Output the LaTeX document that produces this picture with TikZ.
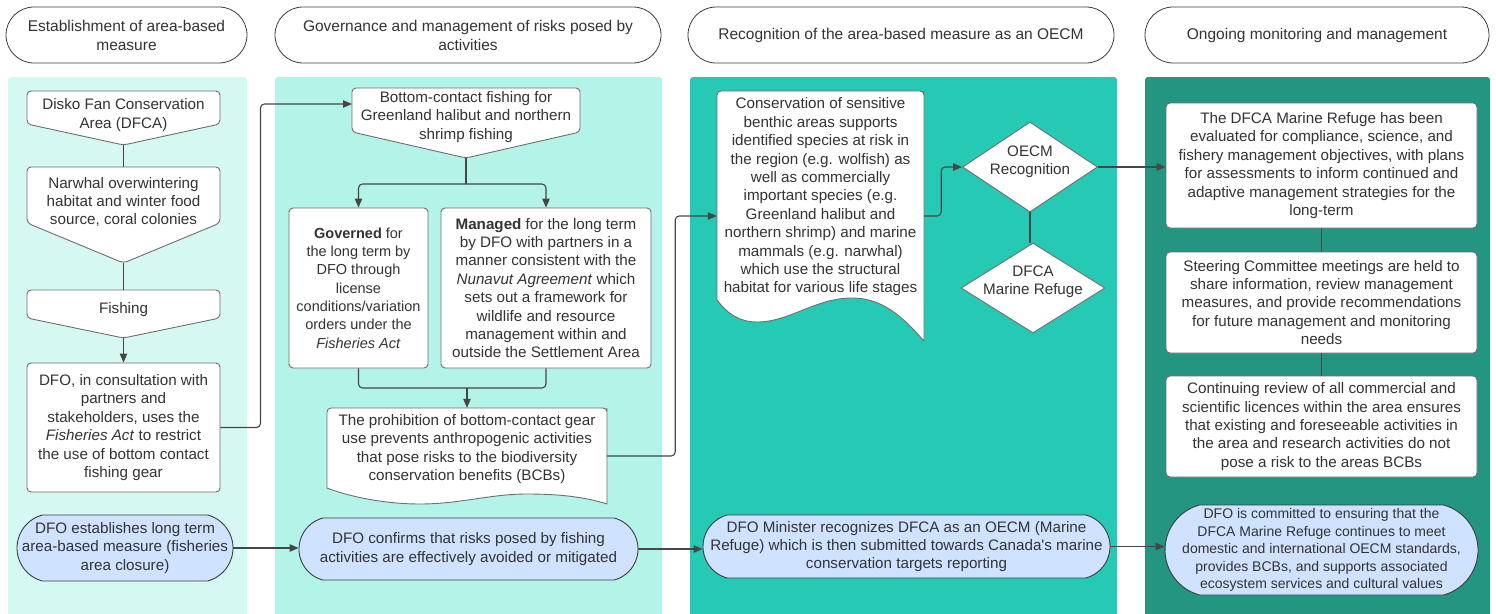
\documentclass[tikz,border=0pt]{standalone}
\usepackage{fontspec}
\setmainfont{Liberation Sans}
\usetikzlibrary{arrows.meta,shapes.misc,shapes.geometric}

\definecolor{ink}{RGB}{51,51,51}
\definecolor{boxline}{RGB}{110,110,110}
\definecolor{darkline}{RGB}{60,60,60}
\definecolor{connline}{RGB}{70,70,70}
\definecolor{laneA}{RGB}{214,248,242}
\definecolor{laneB}{RGB}{180,243,232}
\definecolor{laneC}{RGB}{38,201,179}
\definecolor{laneD}{RGB}{35,149,128}
\definecolor{pillblue}{RGB}{207,226,255}

\begin{document}
\begin{tikzpicture}[x=1pt,y=-1pt,
  every node/.style={font=\fontsize{15.2}{18.4}\selectfont, text=ink, align=center, inner sep=0pt},
  smallfont/.style={font=\fontsize{14.5}{18.3}\selectfont},
  tinyfont/.style={font=\fontsize{14}{17.4}\selectfont},
  sz/.style 2 args={minimum width=#1pt, minimum height=#2pt},
  lane/.style={rounded corners=3pt, draw=none},
  header/.style={rounded rectangle, draw=darkline, line width=0.8pt, fill=white},
  headtext/.style={font=\fontsize{15.5}{19}\selectfont},
  box/.style={rectangle, rounded corners=4pt, draw=boxline, line width=0.9pt, fill=white},
  outline/.style={draw=boxline, line width=0.9pt, fill=white},
  pill/.style={rounded rectangle, rounded rectangle arc length=150, draw=darkline, line width=0.9pt, fill=pillblue},
  frame/.style={rectangle, draw=none},
  decision/.style={diamond, draw=boxline, line width=0.9pt, fill=white},
  conn/.style={draw=connline, line width=1.1pt, rounded corners=4pt},
  arr/.style={conn, -{Triangle[length=9pt,width=7.5pt]}}
]
\useasboundingbox (0,0) rectangle (1496,613);

% swim lanes
\fill[lane, laneA] (8,77) rectangle (247,620);
\fill[lane, laneB] (275,77) rectangle (662,620);
\fill[lane, laneC] (690,77) rectangle (1117,620);
\fill[lane, laneD] (1145,77) rectangle (1490,620);

% lane headers (outline first, caption on top)
\node[header, sz={241}{56}] (h1) at (126.5,35) {};
\node[headtext] (h1t) at (h1) {Establishment of area-based\\measure};
\node[header, sz={386}{56}] (h2) at (468,35) {};
\node[headtext] (h2t) at (h2) {Governance and management of risks posed by\\activities};
\node[header, sz={426}{56}] (h3) at (901,35) {};
\node[headtext] (h3t) at (h3) {Recognition of the area-based measure as an OECM};
\node[header, sz={344}{56}] (h4) at (1317,35) {};
\node[headtext] (h4t) at (h4) {Ongoing monitoring and management};

% ---- lane 1: establishment ----
\draw[outline, rounded corners=4pt] (27,91) -- (220,91) -- (220,124) -- (123.5,145) -- (27,124) -- cycle;
\node[frame, sz={193}{54}] (a1) at (123.5,118) {};
\node (a1t) at (123.5,115) {Disko Fan Conservation\\Area (DFCA)};

\draw[outline, rounded corners=4pt] (27,167) -- (220,167) -- (220,223) -- (123.5,263) -- (27,223) -- cycle;
\node[frame, sz={193}{96}] (a2) at (123.5,215) {};
\node (a2t) at (123.5,202) {Narwhal overwintering\\habitat and winter food\\source, coral colonies};

\draw[outline, rounded corners=4pt] (27,290) -- (220,290) -- (220,318) -- (123.5,338) -- (27,318) -- cycle;
\node[frame, sz={193}{48}] (a3) at (123.5,314) {};
\node (a3t) at (123.5,310) {Fishing};

\node[box, sz={193}{129}] (a4) at (123.5,427.5) {DFO, in consultation with\\partners and\\stakeholders, uses the\\\textit{Fisheries Act} to restrict\\the use of bottom contact\\fishing gear};

\node[pill, sz={216}{66}] (a5) at (125,548) {};
\node (a5t) at (a5) {DFO establishes long term\\area-based measure (fisheries\\area closure)};

% ---- lane 2: governance ----
\draw[outline, rounded corners=4pt] (352,88) -- (580,88) -- (580,132) -- (466,158) -- (352,132) -- cycle;
\node[frame, sz={228}{70}] (b1) at (466,123) {};
\node (b1t) at (466,117) {Bottom-contact fishing for\\Greenland halibut and northern\\shrimp fishing};
\coordinate (b1in) at (352,104);

\node[box, smallfont, sz={139}{160}] (b2) at (358.5,288) {\textbf{Governed} for\\the long term by\\DFO through\\license\\conditions/variation\\orders under the\\\textit{Fisheries Act}};
\node[box, sz={210}{160}] (b3) at (546,288) {\textbf{Managed} for the long term\\by DFO with partners in a\\manner consistent with the\\\textit{Nunavut Agreement} which\\sets out a framework for\\wildlife and resource\\management within and\\outside the Settlement Area};

\draw[outline] (327,488) -- (327,412) [rounded corners=4pt] -- (327,408) -- (607,408) -- (607,412) [sharp corners] -- (607,504)
  .. controls (585,497) and (560,494) .. (527,494)
  .. controls (490,494) and (460,504) .. (420,504)
  .. controls (380,504) and (345,495) .. (327,488) -- cycle;
\node[frame, sz={280}{96}] (b4) at (467,456) {};
\node (b4t) at (467,449) {The prohibition of bottom-contact gear\\use prevents anthropogenic activities\\that pose risks to the biodiversity\\conservation benefits (BCBs)};

\node[pill, sz={339}{62}] (b5) at (468.5,549) {};
\node (b5t) at (b5) {DFO confirms that risks posed by fishing\\activities are effectively avoided or mitigated};

% ---- lane 3: recognition ----
\draw[outline] (717,300) -- (717,95) [rounded corners=4pt] -- (717,91) -- (924,91) -- (924,95) [sharp corners] -- (924,341)
  .. controls (902,316) and (882,298) .. (852,298)
  .. controls (815,298) and (790,322) .. (757,322)
  .. controls (738,322) and (726,312) .. (717,300) -- cycle;
\node[frame, sz={207}{250}] (c1) at (820.5,216) {};
\node (c1t) at (820.5,197) {Conservation of sensitive\\benthic areas supports\\identified species at risk in\\the region (e.g. wolfish) as\\well as commercially\\important species (e.g.\\Greenland halibut and\\northern shrimp) and marine\\mammals (e.g. narwhal)\\which use the structural\\habitat for various life stages};

\node[decision, sz={135}{90}] (c2) at (1030,167) {};
\node (c2t) at (1030,162) {OECM\\Recognition};

\node[decision, sz={144}{90}] (c4) at (1033,288) {};
\node (c4t) at (1033,282) {DFCA\\Marine Refuge};

\node[pill, sz={407}{63}] (c3) at (906.5,546.5) {};
\node (c3t) at (c3) {DFO Minister recognizes DFCA as an OECM (Marine\\Refuge) which is then submitted towards Canada\textquotesingle s marine\\conservation targets reporting};

% ---- lane 4: monitoring ----
\node[box, sz={311}{125}] (d1) at (1321.5,165.5) {The DFCA Marine Refuge has been\\evaluated for compliance, science, and\\fishery management objectives, with plans\\for assessments to inform continued and\\adaptive management strategies for the\\long-term};
\node[box, sz={311}{101}] (d2) at (1321.5,302.5) {Steering Committee meetings are held to\\share information, review management\\measures, and provide recommendations\\for future management and monitoring\\needs};
\node[box, sz={311}{101}] (d3) at (1321.5,426.5) {Continuing review of all commercial and\\scientific licences within the area ensures\\that existing and foreseeable activities in\\the area and research activities do not\\pose a risk to the areas BCBs};
\node[pill, sz={313}{90}] (d4) at (1321.5,550) {};
\node[tinyfont] (d4t) at (d4) {DFO is committed to ensuring that the\\DFCA Marine Refuge continues to meet\\domestic and international OECM standards,\\provides BCBs, and supports associated\\ecosystem services and cultural values};

% ---- connectors ----
\draw[conn] (a1.south) -- (a2.north);
\draw[conn] (a2.south) -- (a3.north);
\draw[arr] (a3.south) -- (a4.north);
\draw[arr] (a4.east) -- ++(40,0) |- (b1in);

\coordinate (split) at (466,184);
\draw[conn] (b1.south) -- (split);
\draw[arr] (split) -| (b2.north);
\draw[arr] (split) -| (b3.north);
\coordinate (join) at (467,388);
\draw[conn] (b2.south) |- (join) -| (b3.south);
\draw[arr] (join) -- (b4.north);
\draw[arr] (b4.east) -- ++(68,0) |- (c1.west);

\draw[arr] (c1.east) -- ++(17,0) |- (c2.west);
\draw[conn] (c4.north -| c2.south) -- (c2.south);
\draw[arr] (c2.east) -- (c2.east -| d1.west);

\draw[conn] (d1.south) -- (d2.north);
\draw[conn] (d2.south) -- (d3.north);

\draw[arr] (a5.east) -- (a5.east -| b5.west);
\draw[arr] (b5.east) -- (b5.east -| c3.west);
\draw[arr] (c3.east) -- (c3.east -| d4.west);
\end{tikzpicture}
\end{document}
